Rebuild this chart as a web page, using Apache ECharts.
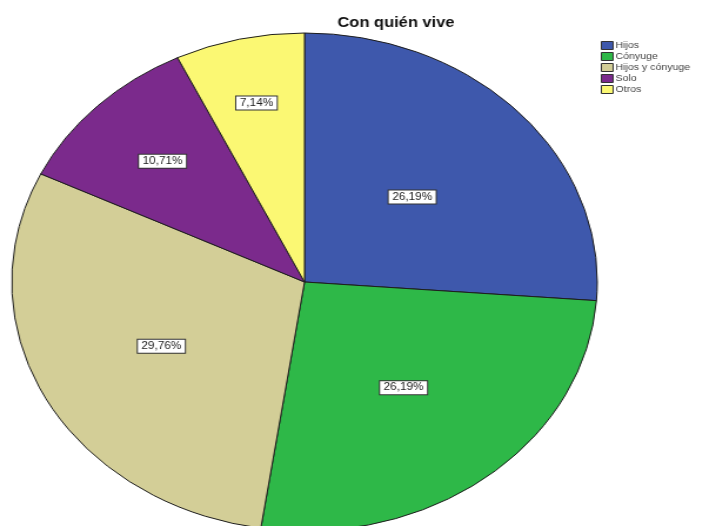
<!DOCTYPE html>
<html>
<head>
<meta charset="utf-8">
<script src="https://cdn.jsdelivr.net/npm/echarts@6/dist/echarts.min.js"></script>
<style>
  html, body { margin: 0; padding: 0; background: #fff; overflow: hidden; }
  #wrap { width: 716px; height: 526px; overflow: hidden; }
  /* the chart is drawn round and then widened into an oval */
  #chart { width: 609px; height: 526px; transform: scaleX(1.1757); transform-origin: 0 0; }
</style>
</head>
<body>
<div id="wrap"><div id="chart"></div></div>
<script>
const categories = ['Hijos', 'Cónyuge', 'Hijos y cónyuge', 'Solo', 'Otros'];
const percentages = [26.19, 26.19, 29.76, 10.71, 7.14];
const sliceColors = ['#3E58AC', '#2EB848', '#D3CE97', '#7B2A8C', '#FBF873'];
// how far out each percentage box sits, as a fraction of the radius
const labelRadius = [0.49, 0.53, 0.54, 0.67, 0.72];

const pieCenter = [259, 282];
const pieRadius = 249;

const chart = echarts.init(document.getElementById('chart'), null, { renderer: 'canvas' });

chart.setOption({
  animation: false,
  backgroundColor: '#fff',
  title: {
    text: 'Con quién vive',
    left: 282,
    top: 11,
    textStyle: { fontFamily: 'Liberation Sans', fontSize: 14, fontWeight: 'bold', color: '#111' }
  },
  legend: {
    orient: 'vertical',
    left: 506,
    top: 36,
    icon: 'rect',
    itemWidth: 10,
    itemHeight: 8,
    itemGap: 2,
    selectedMode: false,
    itemStyle: { borderColor: '#333', borderWidth: 1 },
    textStyle: { fontFamily: 'Liberation Sans', fontSize: 9, color: '#444', padding: [0, 0, 0, -3] },
    data: categories
  },
  series: [{
    type: 'pie',
    center: pieCenter,
    radius: pieRadius,
    startAngle: 90,
    clockwise: true,
    avoidLabelOverlap: false,
    silent: true,
    emphasis: { disabled: true },
    itemStyle: { borderColor: '#1e1e1e', borderWidth: 1 },
    label: {
      show: true,
      position: 'inside',
      formatter: p => p.value.toFixed(2).replace('.', ',') + '%',
      fontFamily: 'Liberation Sans',
      fontSize: 10,
      lineHeight: 11,
      color: '#222',
      backgroundColor: '#fff',
      borderColor: '#333',
      borderWidth: 1,
      padding: [1, 3, 1, 3]
    },
    labelLine: { show: false },
    labelLayout: function (p) {
      const r = p.labelRect;
      const lx = r.x + r.width / 2;
      const ly = r.y + r.height / 2;
      const k = labelRadius[p.dataIndex] / 0.5 - 1;
      return { dx: (lx - pieCenter[0]) * k, dy: (ly - pieCenter[1]) * k };
    },
    data: categories.map((name, i) => ({
      name: name,
      value: percentages[i],
      itemStyle: { color: sliceColors[i] }
    }))
  }]
});
</script>
</body>
</html>
